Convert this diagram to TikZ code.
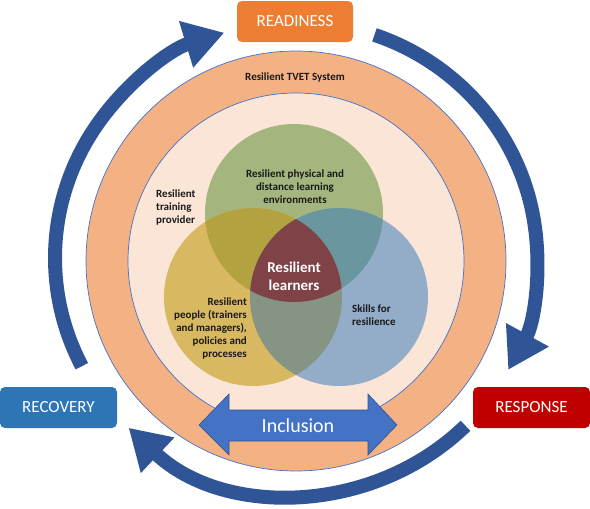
\documentclass[tikz,border=0pt]{standalone}
\usepackage{fontspec}
\setmainfont{Carlito}
\usetikzlibrary{arrows.meta,calc}
\definecolor{ringO}{HTML}{F4B183}
\definecolor{ringI}{HTML}{FBE5D6}
\definecolor{edgeB}{HTML}{4472C4}
\definecolor{cycB}{HTML}{2F5597}
\definecolor{inclB}{HTML}{4472C4}
\definecolor{inclE}{HTML}{2F528F}
\definecolor{readyO}{HTML}{ED7D31}
\definecolor{recovB}{HTML}{2E75B6}
\definecolor{respR}{HTML}{C00000}
\definecolor{vG}{HTML}{A5B57E}
\definecolor{vY}{HTML}{D9B862}
\definecolor{vB}{HTML}{93ACC8}
\definecolor{vGY}{HTML}{B2A240}
\definecolor{vGB}{HTML}{6A96A0}
\definecolor{vYB}{HTML}{869484}
\definecolor{vC}{HTML}{7F4347}
\begin{document}
\begin{tikzpicture}[x=1pt,y=-1pt,
  lbl/.style={font=\fontsize{11}{13}\selectfont\bfseries, text=black!90, inner sep=0pt},
  biglbl/.style={font=\fontsize{15}{18}\selectfont\bfseries, text=white, inner sep=0pt, align=center},
  stage/.style={rounded corners=5pt, text=white, font=\fontsize{17}{20}\selectfont,
    minimum width=116pt, minimum height=41pt, inner sep=0pt},
  cyc/.style={draw=cycB, line width=14pt, -{Triangle[width=46pt,length=40pt]}},
  ringline/.style={draw=edgeB, line width=0.7pt}]
\useasboundingbox (0,0) rectangle (590,509);
% rings
\coordinate (R) at (296,261);
\filldraw[fill=ringO, ringline] (R) circle[radius=210];
\filldraw[fill=ringI, ringline] (R) circle[radius=168];
% venn
\coordinate (G) at (294,213);
\coordinate (Y) at (253,297);
\coordinate (B) at (339,297);
\fill[vG] (G) circle[radius=89];
\fill[vY] (Y) circle[radius=89];
\fill[vB] (B) circle[radius=89];
\begin{scope}
  \clip (G) circle[radius=89];
  \fill[vGY] (Y) circle[radius=89];
  \fill[vGB] (B) circle[radius=89];
\end{scope}
\begin{scope}
  \clip (Y) circle[radius=89];
  \fill[vYB] (B) circle[radius=89];
  \clip (G) circle[radius=89];
  \fill[vC] (B) circle[radius=89];
\end{scope}
% texts
\node[lbl] (tvet) at (295,78) {Resilient TVET System};
\node[lbl, align=center] (phys) at (295,187) {Resilient physical and\\distance learning\\environments};
\node[lbl, align=left, anchor=west] (prov) at (156,208) {Resilient\\training\\provider};
\node[lbl, align=right, anchor=east] (ppl) at (247,329) {Resilient\\people (trainers\\and managers),\\policies and\\processes};
\node[lbl, align=left, anchor=west] (skl) at (352,315.5) {Skills for\\resilience};
\node[biglbl] (lrn) at (294,276) {Resilient\\learners};
% inclusion arrow
\fill[ringI] (229,388) rectangle (368,411);
\filldraw[fill=inclB, draw=inclE, line width=0.6pt]
  (199,425) -- (229,394) -- (229,410) -- (368,410) -- (368,394) -- (397,425)
  -- (368,455) -- (368,441) -- (229,441) -- (229,455) -- cycle;
\node[font=\fontsize{20}{22}\selectfont, text=white, inner sep=0pt] (incl) at (298,426) {Inclusion};
% cycle arrows
\coordinate (O) at (296,258);
\coordinate (a1) at ($(O)+({241*cos(-207.3)},{236*sin(-207.3)})$);
\coordinate (a2) at ($(O)+({241*cos(-71)},{236*sin(-71)})$);
\coordinate (a3) at ($(O)+({241*cos(45.3)},{236*sin(45.3)})$);
\draw[cyc] (a1) arc[start angle=-207.3, end angle=-107.3, x radius=241, y radius=236];
\draw[cyc] (a2) arc[start angle=-71, end angle=28.3, x radius=241, y radius=236];
\draw[cyc] (a3) arc[start angle=45.3, end angle=134, x radius=241, y radius=236];
% stage boxes
\node[stage, fill=readyO] (ready) at (295,21.5) {READINESS};
\node[stage, fill=recovB, minimum width=117pt] (recov) at (58.5,407.5) {RECOVERY};
\node[stage, fill=respR, minimum width=117pt] (resp) at (531.5,407.5) {RESPONSE};
\end{tikzpicture}
\end{document}
